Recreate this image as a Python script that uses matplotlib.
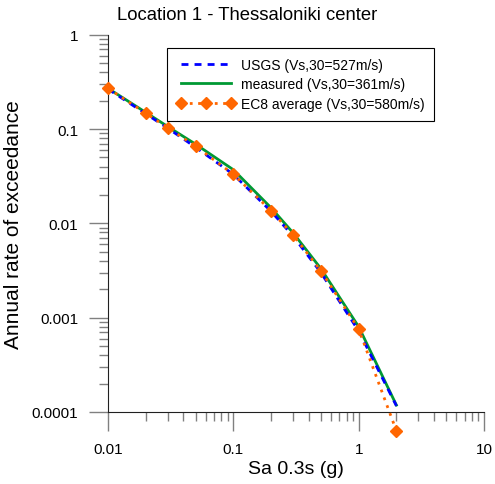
import matplotlib
matplotlib.use("Agg")
import matplotlib.pyplot as plt
from matplotlib.ticker import LogLocator, FixedLocator, NullFormatter

plt.rcParams['font.family'] = ['Liberation Sans', 'DejaVu Sans']

sa = [0.01, 0.02, 0.03, 0.05, 0.1, 0.2, 0.3, 0.5, 1, 2]
usgs = [0.265, 0.145, 0.102, 0.064, 0.033, 0.0134, 0.0073, 0.0030, 0.00072, 0.000116]
measured = [0.27, 0.150, 0.106, 0.069, 0.037, 0.0146, 0.0079, 0.0033, 0.00080, 0.000118]
ec8 = [0.27, 0.147, 0.103, 0.0656, 0.0331, 0.0136, 0.0075, 0.00312, 0.000757, 0.000063]

fig = plt.figure(figsize=(4.95, 4.85), dpi=100)
ax = fig.add_axes([0.2182, 0.0903, 0.7596, 0.8361])

ax.plot(sa, usgs, color="#0000ff", lw=2, dashes=(2.5, 2.2),
        label="USGS (Vs,30=527m/s)", clip_on=False, zorder=3)
ax.plot(sa, measured, color="#009933", lw=2,
        label="measured (Vs,30=361m/s)", clip_on=False, zorder=2)
ax.plot(sa, ec8, color="#ff6600", lw=2, linestyle=(0, (1, 2)), marker="D", ms=5.8,
        label="EC8 average (Vs,30=580m/s)", clip_on=False, zorder=4)

ax.set_xscale("log")
ax.set_yscale("log")
ax.set_xlim(0.01, 10)
ax.set_ylim(10 ** -4.3, 1)

for s in ["top", "right"]:
    ax.spines[s].set_visible(False)
ax.spines["bottom"].set_position(("data", 1e-4))
ax.spines["left"].set_bounds(1e-4, 1)
ax.spines["left"].set_color("#202020")
ax.spines["bottom"].set_color("#202020")

ax.xaxis.set_major_locator(FixedLocator([0.01, 0.1, 1, 10]))
ax.set_xticklabels(["0.01", "0.1", "1", "10"])
ax.xaxis.set_minor_locator(LogLocator(base=10, subs=range(2, 10)))
ax.xaxis.set_minor_formatter(NullFormatter())
ax.yaxis.set_major_locator(FixedLocator([1e-4, 1e-3, 1e-2, 0.1, 1]))
ax.set_yticklabels(["0.0001", "0.001", "0.01", "0.1", "1"])
ax.yaxis.set_minor_locator(FixedLocator([m * 10.0 ** e for e in range(-4, 0) for m in range(2, 10)]))
ax.yaxis.set_minor_formatter(NullFormatter())

ax.tick_params(which="major", direction="out", length=13.5, width=1, color="#808080",
               labelsize=11, pad=8)
ax.tick_params(which="minor", direction="out", length=6.5, width=1, color="#808080")

ax.set_xlabel("Sa 0.3s (g)", fontsize=14)
ax.set_ylabel("Annual rate of exceedance", fontsize=15)
ax.yaxis.set_label_coords(-0.226, 0.533)
ax.xaxis.set_label_coords(0.5, -0.05)
fig.text(0.5, 1 - 16 / 485, "Location 1 - Thessaloniki center", fontsize=13.3,
         ha="center", va="center")

leg = ax.legend(loc="upper left", bbox_to_anchor=(0.157, 0.967), fontsize=10,
                fancybox=False, framealpha=1, edgecolor="black", handlelength=4.2,
                handletextpad=0.4, borderpad=0.7, labelspacing=0.4,
                borderaxespad=0, numpoints=3)
leg.get_frame().set_linewidth(0.8)

fig.savefig("out.png", dpi=100)
